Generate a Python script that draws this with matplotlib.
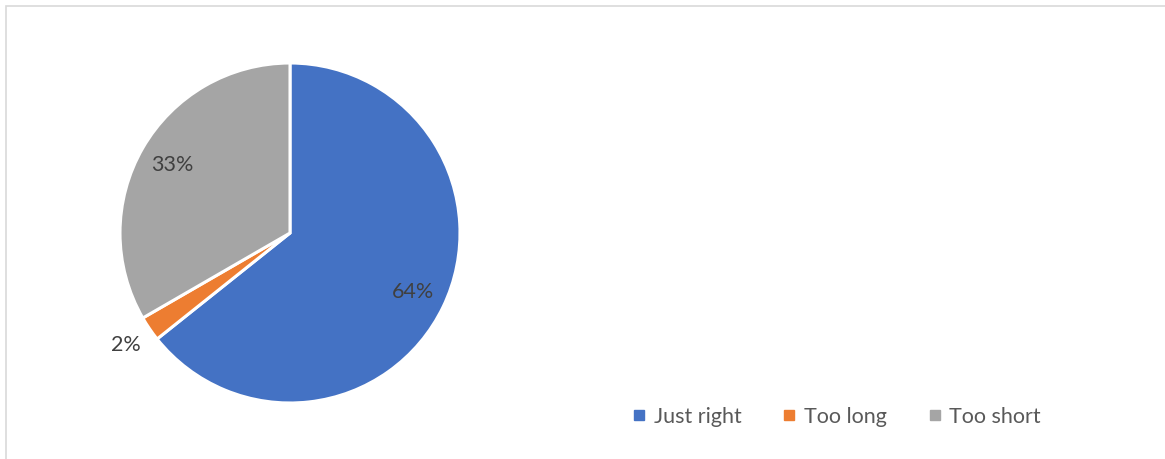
import matplotlib
matplotlib.use("Agg")
import matplotlib.pyplot as plt
from matplotlib.patches import Rectangle
import numpy as np

categories = ["Just right", "Too long", "Too short"]
counts = [27, 1, 14]
colors = ["#4472C4", "#ED7D31", "#A5A5A5"]
label_dist = [0.80, 1.17, 0.80]

plt.rcParams['font.family'] = ['Lato', 'DejaVu Sans']

W, H = 1165, 459
fig = plt.figure(figsize=(W / 100, H / 100), dpi=100)

# chart border
fig.patches.append(Rectangle((6 / W, -0.1), 1.2, 1 - 6 / H + 0.1, transform=fig.transFigure,
                             fill=False, edgecolor="#D9D9D9", linewidth=1.2))

cx, cy, r = 290, 233, 170
ax = fig.add_axes([(cx - r) / W, 1 - (cy + r) / H, 2 * r / W, 2 * r / H])
wedges, _ = ax.pie(counts, colors=colors, startangle=90, counterclock=False, radius=1,
                   wedgeprops=dict(edgecolor="white", linewidth=2.2))
total = sum(counts)
for w, c, d in zip(wedges, counts, label_dist):
    ang = np.deg2rad((w.theta1 + w.theta2) / 2)
    ax.text(d * np.cos(ang), d * np.sin(ang), f"{round(100 * c / total)}%",
            ha="center", va="center", fontsize=15.5, color="#404040")
ax.set_xlim(-1, 1)
ax.set_ylim(-1, 1)
ax.set_aspect("equal")
ax.axis("off")

handles = [plt.Line2D([], [], marker="s", linestyle="none", markersize=7, color=c) for c in colors]
fig.legend(handles, categories, loc="center", bbox_to_anchor=(837 / W, 1 - 417 / H),
           ncol=3, frameon=False, handlelength=0.55, handletextpad=0.4, columnspacing=1.95,
           fontsize=15.5, labelcolor="#595959")

fig.savefig("out.png", dpi=100)
